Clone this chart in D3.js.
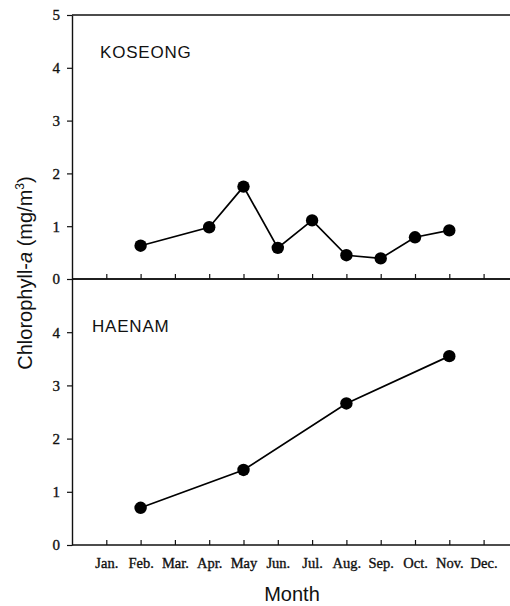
<!DOCTYPE html>
<html>
<head>
<meta charset="utf-8">
<script src="https://cdn.jsdelivr.net/npm/d3@7"></script>
<style>
  html, body { margin: 0; padding: 0; background: #fff; }
  svg { display: block; }
  .tick text { font-family: "Liberation Serif", "Times New Roman", serif; fill: #111; stroke: #111; stroke-width: 0.35px; }
</style>
</head>
<body>
<div id="chart"></div>
<script>
// Month positions (1 = Jan ... 12 = Dec) and tick labels
const monthLabels = ["Jan.", "Feb.", "Mar.", "Apr.", "May", "Jun.", "Jul.", "Aug.", "Sep.", "Oct.", "Nov.", "Dec."];
const monthIndex = [1, 2, 3, 4, 5, 6, 7, 8, 9, 10, 11, 12];

// KOSEONG chlorophyll-a (mg/m3)
const koseongMonths = [2, 4, 5, 6, 7, 8, 9, 10, 11];
const koseongValues = [0.63, 0.98, 1.75, 0.59, 1.11, 0.45, 0.39, 0.79, 0.92];

// HAENAM chlorophyll-a (mg/m3)
const haenamMonths = [2, 5, 8, 11];
const haenamValues = [0.70, 1.41, 2.66, 3.55];

const topTicks = [0, 1, 2, 3, 4, 5];
const bottomTicks = [0, 1, 2, 3, 4];

const W = 510, H = 606;
const svg = d3.select("#chart").append("svg").attr("width", W).attr("height", H);

const left = 72;
const x = d3.scaleLinear().domain([0, 13]).range([left, left + 13 * 34.3]);

const panels = [
  { name: "KOSEONG", months: koseongMonths, values: koseongValues, top: 15, bottom: 279, ticks: topTicks, showX: false, labelX: 100, labelY: 58 },
  { name: "HAENAM", months: haenamMonths, values: haenamValues, top: 279, bottom: 545, ticks: bottomTicks, showX: true, labelX: 92, labelY: 332 }
];

panels.forEach(p => {
  const y = d3.scaleLinear().domain([0, 5]).range([p.bottom, p.top]);
  const g = svg.append("g");

  // frame: top rule, left axis and bottom axis
  g.append("line").attr("x1", left).attr("x2", W).attr("y1", p.top).attr("y2", p.top)
    .attr("stroke", "#111").attr("stroke-width", 1.3);

  const yAxis = g.append("g").attr("transform", `translate(${left},0)`)
    .call(d3.axisLeft(y).tickValues(p.ticks).tickFormat(d3.format("d")).tickSize(5).tickPadding(7).tickSizeOuter(0));
  yAxis.select(".domain").attr("stroke", "#111").attr("stroke-width", 1.4);
  yAxis.selectAll(".tick line").attr("stroke", "#111").attr("stroke-width", 1.2);
  yAxis.selectAll(".tick text").attr("font-size", 15);

  const xAxis = g.append("g").attr("transform", `translate(0,${p.bottom})`)
    .call(d3.axisBottom(x).tickValues(monthIndex).tickSize(-5).tickSizeOuter(0)
      .tickFormat((d, i) => p.showX ? monthLabels[i] : ""));
  xAxis.select(".domain").attr("d", `M${left},0H${W}`).attr("stroke", "#111").attr("stroke-width", 1.4);
  xAxis.selectAll(".tick line").attr("stroke", "#111").attr("stroke-width", 1.2);
  xAxis.selectAll(".tick text").attr("font-size", 14.5).attr("y", 13);

  // series line and markers
  const pts = p.months.map((m, i) => [m, p.values[i]]);
  g.append("path").datum(pts)
    .attr("fill", "none").attr("stroke", "#000").attr("stroke-width", 1.7)
    .attr("d", d3.line().x(d => x(d[0])).y(d => y(d[1])));
  g.selectAll("circle").data(pts).join("circle")
    .attr("cx", d => x(d[0])).attr("cy", d => y(d[1])).attr("r", 6.2).attr("fill", "#000");

  // panel name
  g.append("text").attr("x", p.labelX).attr("y", p.labelY)
    .attr("font-family", "Liberation Sans, Arial, sans-serif").attr("font-size", 17)
    .attr("letter-spacing", 0.8).attr("fill", "#111").text(p.name);
});

// axis titles
const yTitle = svg.append("text")
  .attr("transform", "translate(32,273) rotate(-90)")
  .attr("text-anchor", "middle")
  .attr("font-family", "Liberation Sans, Arial, sans-serif").attr("font-size", 20).attr("fill", "#111");
yTitle.append("tspan").text("Chlorophyll-");
yTitle.append("tspan").attr("font-style", "italic").text("a");
yTitle.append("tspan").text(" (mg/m");
yTitle.append("tspan").attr("font-size", 12).attr("dy", -8).text("3");
yTitle.append("tspan").attr("dy", 8).text(")");

svg.append("text").attr("x", 292).attr("y", 601).attr("text-anchor", "middle")
  .attr("font-family", "Liberation Sans, Arial, sans-serif").attr("font-size", 20).attr("fill", "#111")
  .text("Month");
</script>
</body>
</html>
